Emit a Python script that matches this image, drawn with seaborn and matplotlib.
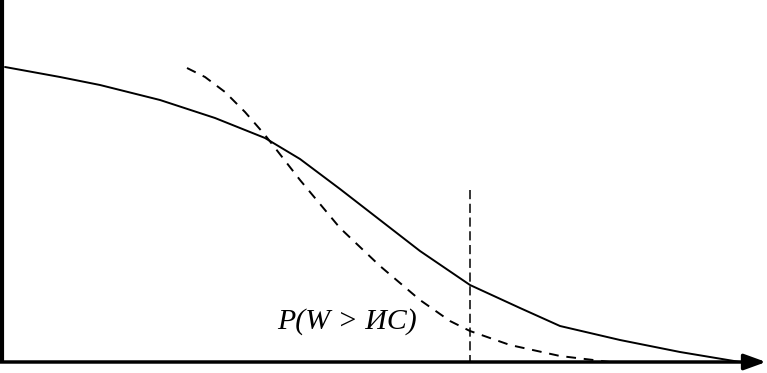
import matplotlib
matplotlib.use("Agg")
import matplotlib.pyplot as plt
import seaborn as sns
import pandas as pd

# curve values (pixel-like units, y grows downward)
solid_x = [5, 60, 100, 160, 215, 265, 300, 340, 380, 420, 470, 520, 560, 620, 680, 740]
solid_y = [67, 77, 85, 100, 118, 138, 159, 189, 220, 251, 285, 308, 326, 340, 352, 362]

dash_x = [187, 205, 225, 245, 265, 300, 340, 380, 420, 450, 470, 510, 560, 610]
dash_y = [68, 77, 92, 112, 135, 180, 228, 266, 300, 321, 331, 345, 356, 362]

cut_x = 470
cut_top = 190
label_text = "P(W > ИС)"

sns.set_theme(style="white")
plt.rcParams["font.family"] = ["Liberation Serif", "DejaVu Serif"]

fig = plt.figure(figsize=(7.67, 3.73), dpi=100)
ax = fig.add_axes([0, 0, 1, 1])
ax.set_xlim(0, 767)
ax.set_ylim(373, 0)
ax.axis("off")

solid = pd.DataFrame({"x": solid_x, "y": solid_y})
dash = pd.DataFrame({"x": dash_x, "y": dash_y})

sns.lineplot(data=solid, x="x", y="y", color="black", linewidth=1.4,
             sort=False, ax=ax)
sns.lineplot(data=dash, x="x", y="y", color="black", linewidth=1.4,
             linestyle=(0, (5, 4)), sort=False, ax=ax)

# vertical cut
ax.vlines(cut_x, cut_top, 362, color="black", linewidth=1.1,
          linestyles=(0, (6, 3)))

# axes: left line and bottom arrow
ax.plot([1.5, 1.5], [0, 362], color="black", linewidth=3, solid_capstyle="butt")
ax.annotate("", xy=(766, 362), xytext=(0, 362),
            arrowprops=dict(arrowstyle="-|>,head_length=1.1,head_width=0.4",
                            color="black", lw=2.5, shrinkA=0, shrinkB=0))

ax.text(277, 322, label_text, fontsize=21.5, style="italic",
        va="center", ha="left", color="black")

fig.savefig("out.png", dpi=100, facecolor="white")
